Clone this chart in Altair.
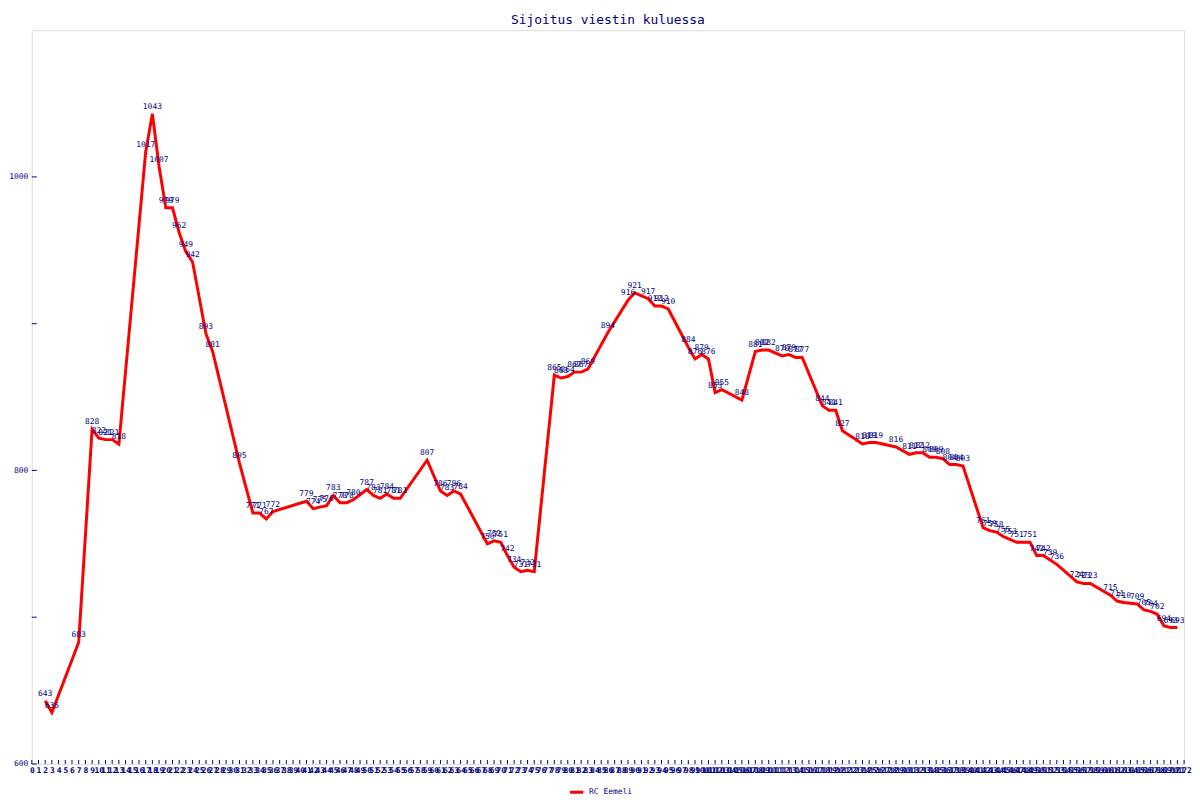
import altair as alt
import pandas as pd

# x position (split index) and placing value of each point
positions = [2, 3, 7, 9, 10, 11, 12, 13,
             17, 18, 19, 20, 21, 22, 23, 24,
             26, 27, 31,
             33, 34, 35, 36,
             41, 42, 43, 44, 45, 46, 47, 48,
             50, 51, 52, 53, 54, 55,
             59,
             61, 62, 63, 64,
             68, 69, 70, 71, 72, 73, 74, 75,
             78, 79, 80, 81, 82, 83,
             86, 89, 90,
             92, 93, 94, 95,
             98, 99, 100, 101, 102, 103,
             106,
             108, 109, 110,
             112, 113, 114, 115,
             118, 119, 120, 121,
             124, 125, 126,
             129,
             131, 132, 133, 134, 135, 136, 137, 138, 139,
             142, 143, 144, 145, 146, 147,
             149, 150, 151, 152, 153,
             156, 157, 158,
             161, 162, 163,
             165, 166, 167, 168, 169, 170, 171]
placings = [643, 635, 683, 828, 822, 821, 821, 818,
            1017, 1043, 1007, 979, 979, 962, 949, 942,
            893, 881, 805,
            771, 771, 767, 772,
            779, 774, 775, 776, 783, 778, 778, 780,
            787, 783, 781, 784, 781, 781,
            807,
            786, 783, 786, 784,
            750, 752, 751, 742, 734, 731, 732, 731,
            865, 863, 864, 867, 867, 869,
            894, 916, 921,
            917, 912, 912, 910,
            884, 876, 879, 876, 853, 855,
            848,
            881, 882, 882,
            878, 879, 877, 877,
            844, 841, 841, 827,
            818, 819, 819,
            816,
            811, 812, 812, 809, 809, 808, 804, 804, 803,
            761, 759, 758, 755, 753, 751,
            751, 742, 742, 739, 736,
            724, 723, 723,
            715, 711, 710,
            709, 705, 704, 702, 694, 693, 693]
team = "RC Eemeli"
title_text = "Sijoitus viestin kuluessa"

x_ticks = list(range(0, 173))
y_ticks = [600, 700, 800, 900, 1000]
y_labels = [600, 800, 1000]

NAVY = "#000080"
FONT = "DejaVu Sans Mono"
W, H = 1162, 740

df = pd.DataFrame({"pos": positions, "place": placings, "team": team})
xt = pd.DataFrame({"pos": x_ticks})
yt = pd.DataFrame({"place": y_ticks})

xscale = alt.Scale(domain=[0, 172], nice=False, zero=False)
yscale = alt.Scale(domain=[600, 1100], nice=False, zero=False)

xaxis = alt.Axis(values=x_ticks, title=None, ticks=False, domain=False, grid=False,
                 labelOverlap=False, labelFlush=False, labelAngle=0, format="d",
                 labelFont=FONT, labelFontSize=8, labelFontWeight="bold",
                 labelColor=NAVY, labelPadding=3)
yaxis = alt.Axis(values=y_labels, title=None, ticks=False, domain=False, grid=False,
                 format="d", labelFont=FONT, labelFontSize=8, labelColor=NAVY,
                 labelPadding=4)

X = alt.X("pos:Q", scale=xscale, axis=xaxis)
Y = alt.Y("place:Q", scale=yscale, axis=yaxis)

base = alt.Chart(df)

line = base.mark_line(strokeWidth=3, strokeCap="butt", strokeJoin="miter").encode(
    x=X, y=Y,
    color=alt.Color("team:N", scale=alt.Scale(range=["#ff0000"]),
                    legend=alt.Legend(orient="none", legendX=W / 2 - 40, legendY=H + 20,
                                      title=None, direction="horizontal",
                                      labelFont=FONT, labelFontSize=8, labelColor=NAVY,
                                      symbolType="stroke", symbolStrokeWidth=3, symbolSize=180,
                                      padding=0)),
)

labels = base.mark_text(font=FONT, fontSize=8, color=NAVY, dy=-7).encode(
    x=X, y=Y, text=alt.Text("place:Q"),
)

xtick_rules = alt.Chart(xt).mark_rule(color=NAVY, strokeWidth=1).encode(
    x=X, y=alt.value(H), y2=alt.value(H - 4),
)

ytick_rules = alt.Chart(yt).mark_rule(color=NAVY, strokeWidth=1).encode(
    y=Y, x=alt.value(0), x2=alt.value(5),
)

chart = alt.layer(line, xtick_rules, ytick_rules, labels).properties(
    width=W, height=H,
    padding={"left": 0, "top": 3, "right": 0, "bottom": 0},
    title=alt.Title(title_text, font=FONT, fontSize=13, fontWeight="normal",
                    color=NAVY, anchor="middle", offset=3),
).configure_view(stroke=NAVY, strokeWidth=1).configure(background="white")

chart.save("out.html", embed_options={"renderer": "svg", "actions": False})
